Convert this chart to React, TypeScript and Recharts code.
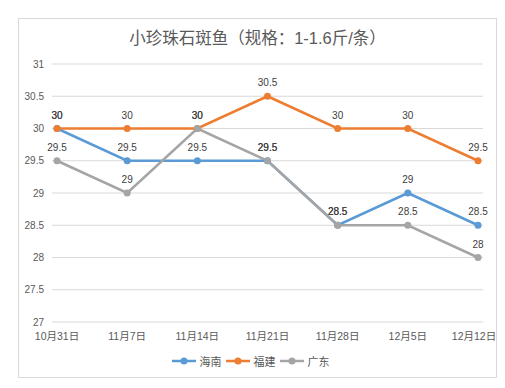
import { LineChart, Line, XAxis, YAxis, CartesianGrid, Legend, LabelList } from 'recharts';

const dates = ['10月31日', '11月7日', '11月14日', '11月21日', '11月28日', '12月5日', '12月12日'];
const hainan = [30, 29.5, 29.5, 29.5, 28.5, 29, 28.5];
const fujian = [30, 30, 30, 30.5, 30, 30, 29.5];
const guangdong = [29.5, 29, 30, 29.5, 28.5, 28.5, 28];
const yTicks = [27, 27.5, 28, 28.5, 29, 29.5, 30, 30.5, 31];

const series = [
  { key: 'hainan', name: '海南', color: '#5B9BD5' },
  { key: 'fujian', name: '福建', color: '#ED7D31' },
  { key: 'guangdong', name: '广东', color: '#A5A5A5' },
];

const data = dates.map((d, i) => ({
  date: d,
  hainan: hainan[i],
  fujian: fujian[i],
  guangdong: guangdong[i],
}));

const FONT = '"Liberation Sans", "Noto Sans CJK SC", sans-serif';

// last date label sits against the frame, nudge it in so it isn't clipped
const DateTick = (props: any) => {
  const { x, y, payload, index } = props;
  const last = index === dates.length - 1;
  return (
    <text x={last ? x - 4 : x} y={y} dy="0.71em" textAnchor="middle" fontSize={10.5} fill="#595959" fontFamily={FONT}>
      {payload.value}
    </text>
  );
};

// legend: line with filled dot, like Excel
const LegendContent = () => (
  <div style={{ display: 'flex', justifyContent: 'center', alignItems: 'center', fontSize: 11, color: '#595959', fontFamily: FONT }}>
    {series.map((s) => (
      <div key={s.key} style={{ display: 'flex', alignItems: 'center', marginRight: 4 }}>
        <svg width={24} height={10}>
          <line x1={0} y1={5} x2={24} y2={5} stroke={s.color} strokeWidth={2.5} />
          <circle cx={12} cy={5} r={3.5} fill={s.color} />
        </svg>
        <span style={{ marginLeft: 4 }}>{s.name}</span>
      </div>
    ))}
  </div>
);

const App = () => {
  return (
    <div style={{ margin: 10, width: 479, height: 360, border: '1px solid #d9d9d9', boxSizing: 'border-box', position: 'relative', background: '#fff' }}>
      <div style={{ position: 'absolute', top: 6, left: 0, width: '100%', textAlign: 'center', fontSize: 16.5, color: '#595959', fontFamily: FONT }}>
        小珍珠石斑鱼（规格：1-1.6斤/条）
      </div>
      <LineChart width={477} height={358} data={data} margin={{ top: 45, right: 13, left: 3, bottom: 0 }}>
        <CartesianGrid vertical={false} stroke="#d9d9d9" />
        <XAxis
          dataKey="date"
          axisLine={false}
          tickLine={false}
          padding={{ left: 5, right: 5 }}
          height={20}
          interval={0}
          tickMargin={5}
          tick={<DateTick />}
        />
        <YAxis
          domain={[27, 31]}
          ticks={yTicks}
          width={30}
          axisLine={false}
          tickLine={false}
          tick={{ fontSize: 10, fill: '#595959', fontFamily: FONT }}
        />
        <Legend verticalAlign="bottom" height={24} content={<LegendContent />} wrapperStyle={{ paddingTop: 11 }} />
        {series.map((s) => (
          <Line
            key={s.key}
            dataKey={s.key}
            name={s.name}
            stroke={s.color}
            strokeWidth={2.5}
            dot={{ r: 3.5, fill: s.color, stroke: s.color, strokeWidth: 0 }}
            isAnimationActive={false}
          >
            <LabelList dataKey={s.key} position="top" offset={10} style={{ fontSize: 10, fill: '#404040', fontFamily: FONT }} />
          </Line>
        ))}
      </LineChart>
    </div>
  );
};

export default App;
